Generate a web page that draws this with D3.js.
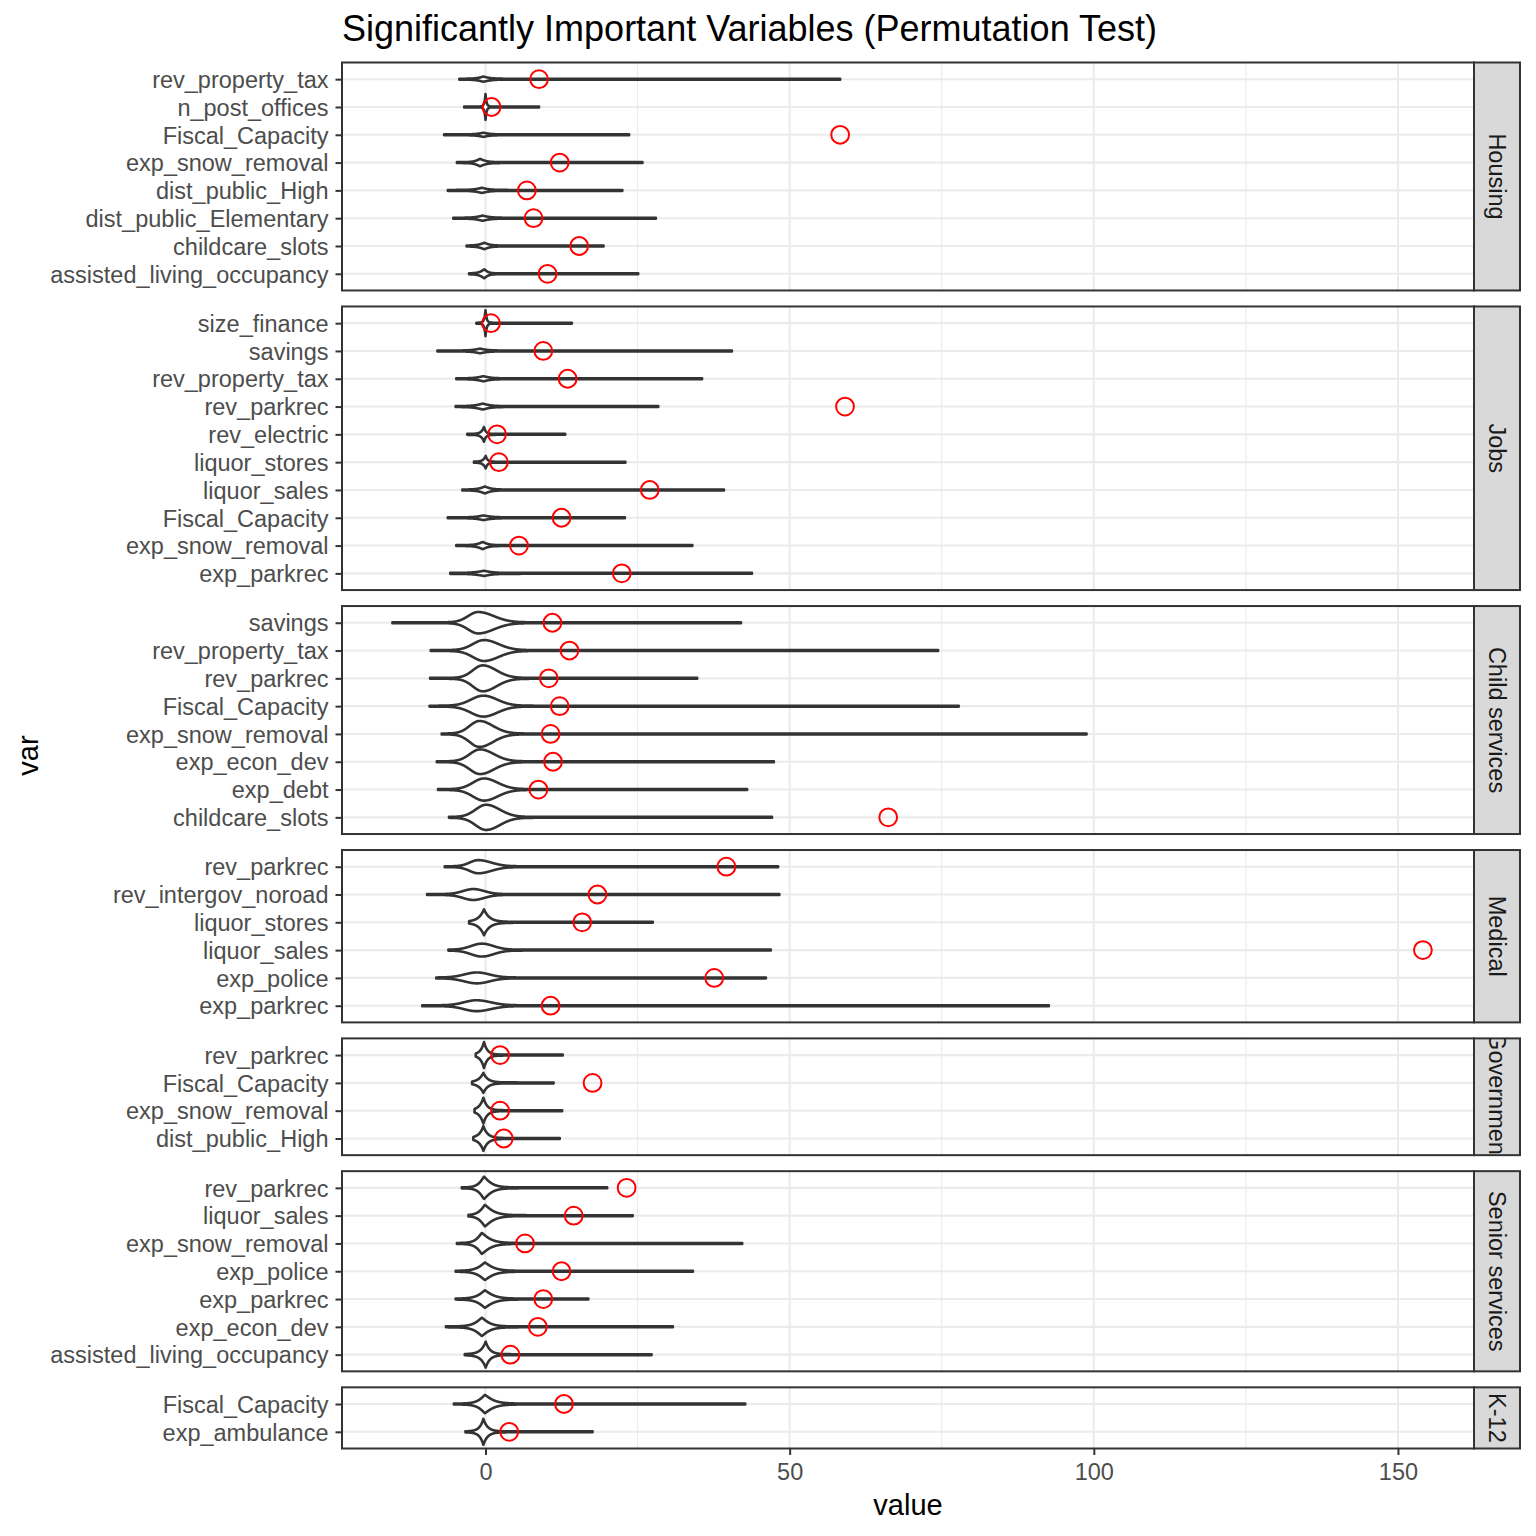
<!DOCTYPE html>
<html><head><meta charset="utf-8">
<script src="https://cdn.jsdelivr.net/npm/d3@7/dist/d3.min.js"></script>
<style>
body{margin:0;background:#fff}
text{font-family:"Liberation Sans",Arial,Helvetica,sans-serif}
</style>
</head><body>
<svg id="chart" width="1536" height="1536"></svg>
<script>
// ---------------- DATA ----------------
const chartTitle = "Significantly Important Variables (Permutation Test)";
const xTitle = "value";
const yTitle = "var";
const xTicks = [0, 50, 100, 150];
const facets = ["Housing", "Jobs", "Child services", "Medical", "Government", "Senior services", "K-12"];

// rows listed top-to-bottom within each facet
const rowFacet = [
  "Housing","Housing","Housing","Housing","Housing","Housing","Housing","Housing",
  "Jobs","Jobs","Jobs","Jobs","Jobs","Jobs","Jobs","Jobs","Jobs","Jobs",
  "Child services","Child services","Child services","Child services","Child services","Child services","Child services","Child services",
  "Medical","Medical","Medical","Medical","Medical","Medical",
  "Government","Government","Government","Government",
  "Senior services","Senior services","Senior services","Senior services","Senior services","Senior services","Senior services",
  "K-12","K-12"
];
const rowVar = [
  "rev_property_tax","n_post_offices","Fiscal_Capacity","exp_snow_removal","dist_public_High","dist_public_Elementary","childcare_slots","assisted_living_occupancy",
  "size_finance","savings","rev_property_tax","rev_parkrec","rev_electric","liquor_stores","liquor_sales","Fiscal_Capacity","exp_snow_removal","exp_parkrec",
  "savings","rev_property_tax","rev_parkrec","Fiscal_Capacity","exp_snow_removal","exp_econ_dev","exp_debt","childcare_slots",
  "rev_parkrec","rev_intergov_noroad","liquor_stores","liquor_sales","exp_police","exp_parkrec",
  "rev_parkrec","Fiscal_Capacity","exp_snow_removal","dist_public_High",
  "rev_parkrec","liquor_sales","exp_snow_removal","exp_police","exp_parkrec","exp_econ_dev","assisted_living_occupancy",
  "Fiscal_Capacity","exp_ambulance"
];
// observed importance (red circles)
const observed = [
  8.8, 1.0, 58.3, 12.2, 6.8, 7.9, 15.4, 10.2,
  0.9, 9.5, 13.5, 59.1, 1.9, 2.2, 27.0, 12.5, 5.5, 22.4,
  11.0, 13.8, 10.4, 12.2, 10.7, 11.1, 8.7, 66.2,
  39.6, 18.4, 15.9, 154.1, 37.6, 10.7,
  2.4, 17.6, 2.4, 3.0,
  23.2, 14.5, 6.5, 12.5, 9.5, 8.6, 4.1,
  12.9, 3.9
];
// permutation (null) distribution: range
const nullMin = [
  -4.3, -3.5, -6.8, -4.7, -6.2, -5.3, -3.1, -2.7,
  -1.5, -7.9, -4.8, -4.9, -3.0, -1.9, -3.8, -6.2, -4.8, -5.8,
  -15.3, -9.0, -9.1, -9.2, -7.2, -8.0, -7.8, -6.0,
  -6.7, -9.6, -2.7, -6.1, -8.1, -10.4,
  -1.6, -2.2, -1.8, -2.0,
  -3.9, -2.8, -4.7, -4.9, -4.9, -6.5, -3.4,
  -5.2, -3.3
];
const nullMax = [
  58.3, 8.8, 23.6, 25.8, 22.5, 28.0, 19.4, 25.1,
  14.2, 40.5, 35.6, 28.4, 13.1, 23.0, 39.2, 22.9, 34.0, 43.8,
  42.0, 74.4, 34.8, 77.8, 98.8, 47.4, 43.0, 47.1,
  48.1, 48.3, 27.5, 46.9, 46.1, 92.6,
  12.7, 11.2, 12.6, 12.2,
  20.0, 24.2, 42.2, 34.1, 16.9, 30.8, 27.3,
  42.7, 17.6
];
// null distribution: mode, relative peak density, bulb extents left/right, shape exponent
const nullMode = [
  -0.35, 0.0, -0.35, -0.9, -0.6, -0.5, -0.2, -0.2,
  0.0, -0.9, -0.35, -0.45, -0.25, 0.03, -0.1, -0.35, -0.45, -0.25,
  -1.2, -0.25, -0.45, -0.35, -1.0, -0.9, -0.25, 0.1,
  -1.2, -2.0, -0.25, -0.6, -1.4, -1.5,
  -0.25, -0.35, -0.35, -0.35,
  -0.25, -0.1, -0.6, -0.1, -0.1, -0.6, 0.03,
  -0.1, -0.35
];
const nullPeak = [
  0.17, 1.0, 0.13, 0.26, 0.17, 0.17, 0.22, 0.32,
  1.0, 0.15, 0.17, 0.2, 0.55, 0.46, 0.24, 0.15, 0.25, 0.17,
  0.82, 0.8, 1.0, 0.8, 1.0, 0.95, 0.85, 0.97,
  0.49, 0.4, 1.0, 0.48, 0.4, 0.4,
  1.0, 0.76, 1.0, 0.95,
  0.85, 0.82, 0.8, 0.66, 0.66, 0.69, 1.0,
  0.69, 1.0
];
const nullLeft = [
  1.9, 0.4, 1.9, 1.6, 2.2, 2.1, 1.8, 1.5,
  0.45, 2.2, 2.2, 2.4, 1.0, 0.95, 1.9, 2.2, 1.8, 2.9,
  3.55, 3.9, 3.5, 4.4, 3.45, 3.6, 3.9, 3.7,
  3.0, 3.6, 2.0, 3.8, 4.4, 4.3,
  1.3, 1.8, 1.5, 1.6,
  1.75, 1.9, 1.9, 2.5, 2.5, 2.5, 1.8,
  2.2, 1.4
];
const nullRight = [
  2.2, 0.4, 1.9, 1.9, 2.2, 2.3, 1.75, 1.2,
  0.45, 2.2, 2.2, 2.3, 0.7, 0.7, 1.9, 2.5, 1.7, 2.6,
  5.5, 5.1, 4.8, 4.9, 4.8, 4.9, 4.8, 4.8,
  4.6, 3.8, 2.1, 4.1, 4.4, 5.0,
  1.3, 1.7, 1.4, 1.6,
  2.6, 3.0, 3.0, 3.0, 3.0, 2.7, 1.6,
  3.0, 1.6
];
const nullShape = [
  1.2, 1, 1.2, 1.2, 1.2, 1.2, 1.2, 1.2,
  1, 1.2, 1.2, 1.2, 1, 1, 1.2, 1.2, 1.2, 1.2,
  2, 2, 2, 2, 2, 2, 2, 2,
  2, 2, 1, 2, 2, 2,
  1, 1, 1, 1,
  1.2, 1.2, 1.2, 1.2, 1.2, 1.2, 1,
  1.2, 1
];

// ---------------- LAYOUT ----------------
const panelL = 342, panelR = 1474, stripW = 46;
const panelTop = 62.5, panelBot = 1448.5, gap = 16, expand = 0.6;
const ink = "#333333";

const svg = d3.select("#chart");
svg.append("rect").attr("width", 1536).attr("height", 1536).attr("fill", "#fff");

const x = d3.scaleLinear().domain([-23.59, 162.5]).range([panelL, panelR]);
const minorTicks = d3.pairs(xTicks).map(([a, b]) => (a + b) / 2);

const rowsOf = f => d3.range(rowFacet.length).filter(i => rowFacet[i] === f);
const counts = facets.map(f => rowsOf(f).length);
const unit = (panelBot - panelTop - gap * (facets.length - 1)) / d3.sum(counts, c => c - 1 + 2 * expand);

let yCursor = panelTop;
const panels = facets.map((f, k) => {
  const h = (counts[k] - 1 + 2 * expand) * unit;
  const p = { facet: f, k, top: yCursor, bottom: yCursor + h, rows: rowsOf(f) };
  yCursor += h + gap;
  return p;
});

const defs = svg.append("defs");
const maxHalf = 0.45 * unit;

function halfWidth(i, v) {
  const d = v - nullMode[i];
  const p = nullShape[i];
  const ext = d < 0 ? nullLeft[i] : nullRight[i];
  const s = ext / Math.pow(Math.LN10, 1 / p);
  return 0.45 + maxHalf * nullPeak[i] * Math.exp(-Math.pow(Math.abs(d) / s, p));
}

panels.forEach(p => {
  const y = d3.scalePoint()
    .domain(p.rows.map(i => rowVar[i]))
    .range([p.top, p.bottom])
    .padding(expand);

  const clipId = "clip" + p.k;
  defs.append("clipPath").attr("id", clipId)
    .append("rect").attr("x", panelL).attr("y", p.top)
    .attr("width", panelR - panelL).attr("height", p.bottom - p.top);

  const g = svg.append("g");
  const body = g.append("g").attr("clip-path", `url(#${clipId})`);

  body.selectAll("line.minor").data(minorTicks).join("line")
    .attr("x1", d => x(d)).attr("x2", d => x(d))
    .attr("y1", p.top).attr("y2", p.bottom)
    .attr("stroke", "#EBEBEB").attr("stroke-width", 1.1);
  body.selectAll("line.majorx").data(xTicks).join("line")
    .attr("x1", d => x(d)).attr("x2", d => x(d))
    .attr("y1", p.top).attr("y2", p.bottom)
    .attr("stroke", "#EBEBEB").attr("stroke-width", 2.1);
  body.selectAll("line.majory").data(p.rows).join("line")
    .attr("x1", panelL).attr("x2", panelR)
    .attr("y1", i => y(rowVar[i])).attr("y2", i => y(rowVar[i]))
    .attr("stroke", "#EBEBEB").attr("stroke-width", 2.1);

  p.rows.forEach(i => {
    const cy = y(rowVar[i]);
    const n = 1500;
    const vals = d3.range(n + 1).map(j => nullMin[i] + (nullMax[i] - nullMin[i]) * j / n);
    vals.push(nullMode[i]);
    vals.sort((a, b) => a - b);
    const area = d3.area()
      .x(v => x(v))
      .y0(v => cy - halfWidth(i, v))
      .y1(v => cy + halfWidth(i, v));
    body.append("path").attr("d", area(vals))
      .attr("fill", "#fff").attr("stroke", ink)
      .attr("stroke-width", 2.6).attr("stroke-linejoin", "round");
  });

  body.selectAll("circle").data(p.rows).join("circle")
    .attr("cx", i => x(observed[i])).attr("cy", i => y(rowVar[i]))
    .attr("r", 8.9).attr("fill", "none").attr("stroke", "#FF0000").attr("stroke-width", 2);

  g.append("rect").attr("x", panelL).attr("y", p.top)
    .attr("width", panelR - panelL).attr("height", p.bottom - p.top)
    .attr("fill", "none").attr("stroke", ink).attr("stroke-width", 2);

  const sclip = "sclip" + p.k;
  defs.append("clipPath").attr("id", sclip)
    .append("rect").attr("x", panelR).attr("y", p.top)
    .attr("width", stripW).attr("height", p.bottom - p.top);
  g.append("rect").attr("x", panelR).attr("y", p.top)
    .attr("width", stripW).attr("height", p.bottom - p.top)
    .attr("fill", "#D9D9D9").attr("stroke", ink).attr("stroke-width", 2);
  g.append("g").attr("clip-path", `url(#${sclip})`)
    .append("text")
    .attr("transform", `translate(${panelR + stripW / 2},${(p.top + p.bottom) / 2}) rotate(90)`)
    .attr("text-anchor", "middle").attr("dy", "0.35em")
    .attr("font-size", "23.5px").attr("fill", "#1A1A1A")
    .text(p.facet);

  const ax = g.append("g").attr("transform", `translate(${panelL},0)`)
    .call(d3.axisLeft(y).tickSize(6.5).tickPadding(7));
  ax.select(".domain").remove();
  ax.selectAll(".tick line").attr("stroke", ink).attr("stroke-width", 2);
  ax.selectAll(".tick text").attr("font-size", "23.5px").attr("fill", "#4D4D4D")
    .attr("font-family", "'Liberation Sans',Arial,sans-serif").attr("dy", "0.35em");

  if (p.k === panels.length - 1) {
    const bx = g.append("g").attr("transform", `translate(0,${p.bottom})`)
      .call(d3.axisBottom(x).tickValues(xTicks).tickFormat(d3.format("d")).tickSize(6.5).tickPadding(8));
    bx.select(".domain").remove();
    bx.selectAll(".tick line").attr("stroke", ink).attr("stroke-width", 2);
    bx.selectAll(".tick text").attr("font-size", "23.5px").attr("fill", "#4D4D4D")
      .attr("font-family", "'Liberation Sans',Arial,sans-serif").attr("dy", "0.71em");
  }
});

svg.append("text").attr("x", panelL).attr("y", 41)
  .attr("font-size", "36px").attr("fill", "#000").text(chartTitle);
svg.append("text").attr("x", (panelL + panelR) / 2).attr("y", 1515)
  .attr("text-anchor", "middle").attr("font-size", "29px").attr("fill", "#000").text(xTitle);
svg.append("text")
  .attr("transform", `translate(38,${(panelTop + panelBot) / 2}) rotate(-90)`)
  .attr("text-anchor", "middle").attr("font-size", "29px").attr("fill", "#000").text(yTitle);
</script>
</body></html>
